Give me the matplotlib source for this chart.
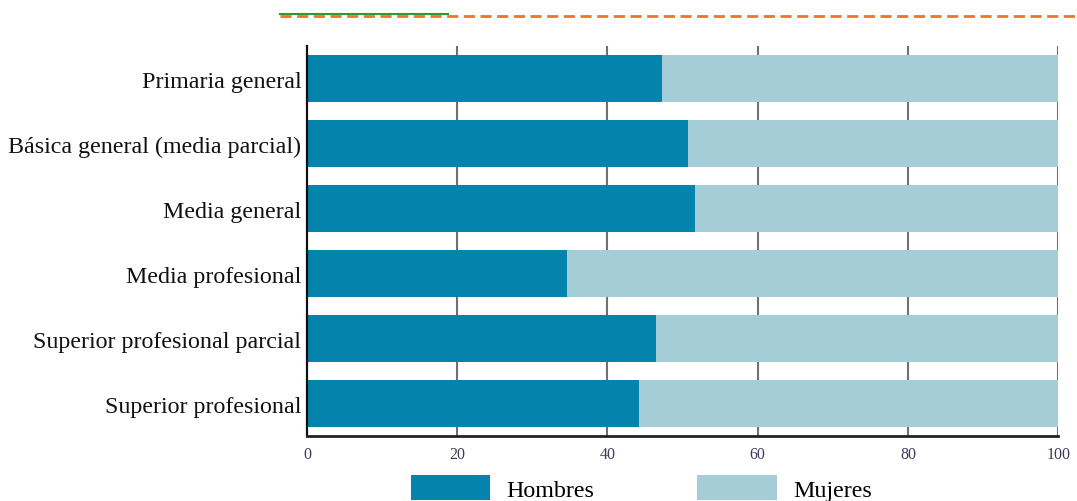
import matplotlib
matplotlib.use("Agg")
import matplotlib.pyplot as plt
from matplotlib.lines import Line2D

categories = ["Primaria general", "Básica general (media parcial)", "Media general",
              "Media profesional", "Superior profesional parcial", "Superior profesional"]
hombres = [47.3, 50.7, 51.7, 34.6, 46.4, 44.2]
mujeres = [100 - h for h in hombres]
xticks = [0, 20, 40, 60, 80, 100]
series_names = ["Hombres", "Mujeres"]

c_h = "#0483ac"
c_m = "#a4cdd7"

plt.rcParams['font.family'] = ['Liberation Serif', 'DejaVu Serif']

fig = plt.figure(figsize=(10.77, 5.02), dpi=100)
ax = fig.add_axes([0.285, 0.1295, 0.6975, 0.7765])

y = list(range(len(categories)))
ax.barh(y, hombres, height=0.73, color=c_h, label=series_names[0], zorder=2)
ax.barh(y, mujeres, left=hombres, height=0.73, color=c_m, label=series_names[1], zorder=2)

ax.set_ylim(len(categories) - 0.5, -0.5)
ax.set_xlim(0, 100)
ax.set_yticks(y)
ax.set_yticklabels(categories, fontsize=17.3, color="#111111")
ax.set_xticks(xticks)
ax.set_xticklabels([str(t) for t in xticks], fontsize=11.5, color="#3a3a60")
ax.tick_params(axis='both', length=0, pad=4)
ax.tick_params(axis='x', pad=7)

for t in xticks[1:]:
    ax.axvline(t, color="#707070", lw=1.5, zorder=1)

for s in ["top", "right"]:
    ax.spines[s].set_visible(False)
ax.spines["left"].set_linewidth(1.6)
ax.spines["left"].set_color("#111111")
ax.spines["bottom"].set_linewidth(2.0)
ax.spines["bottom"].set_color("#222222")

leg = ax.legend(loc="upper center", bbox_to_anchor=(0.445, -0.1), ncol=2, frameon=False,
                fontsize=17.3, handlelength=3.3, handleheight=1.25, handletextpad=0.67,
                columnspacing=4.3, borderaxespad=0, borderpad=0)

# decorative lines at the top
fig.add_artist(Line2D([280/1077, 448/1077], [1 - 14.5/502, 1 - 14.5/502],
                      color="#2a9a3a", lw=1.5, transform=fig.transFigure))
fig.add_artist(Line2D([280/1077, 1.0], [1 - 16.5/502, 1 - 16.5/502],
                      color="#e8762e", lw=2.0, ls=(0, (4, 2)), transform=fig.transFigure))

fig.savefig("out.png", dpi=100)
